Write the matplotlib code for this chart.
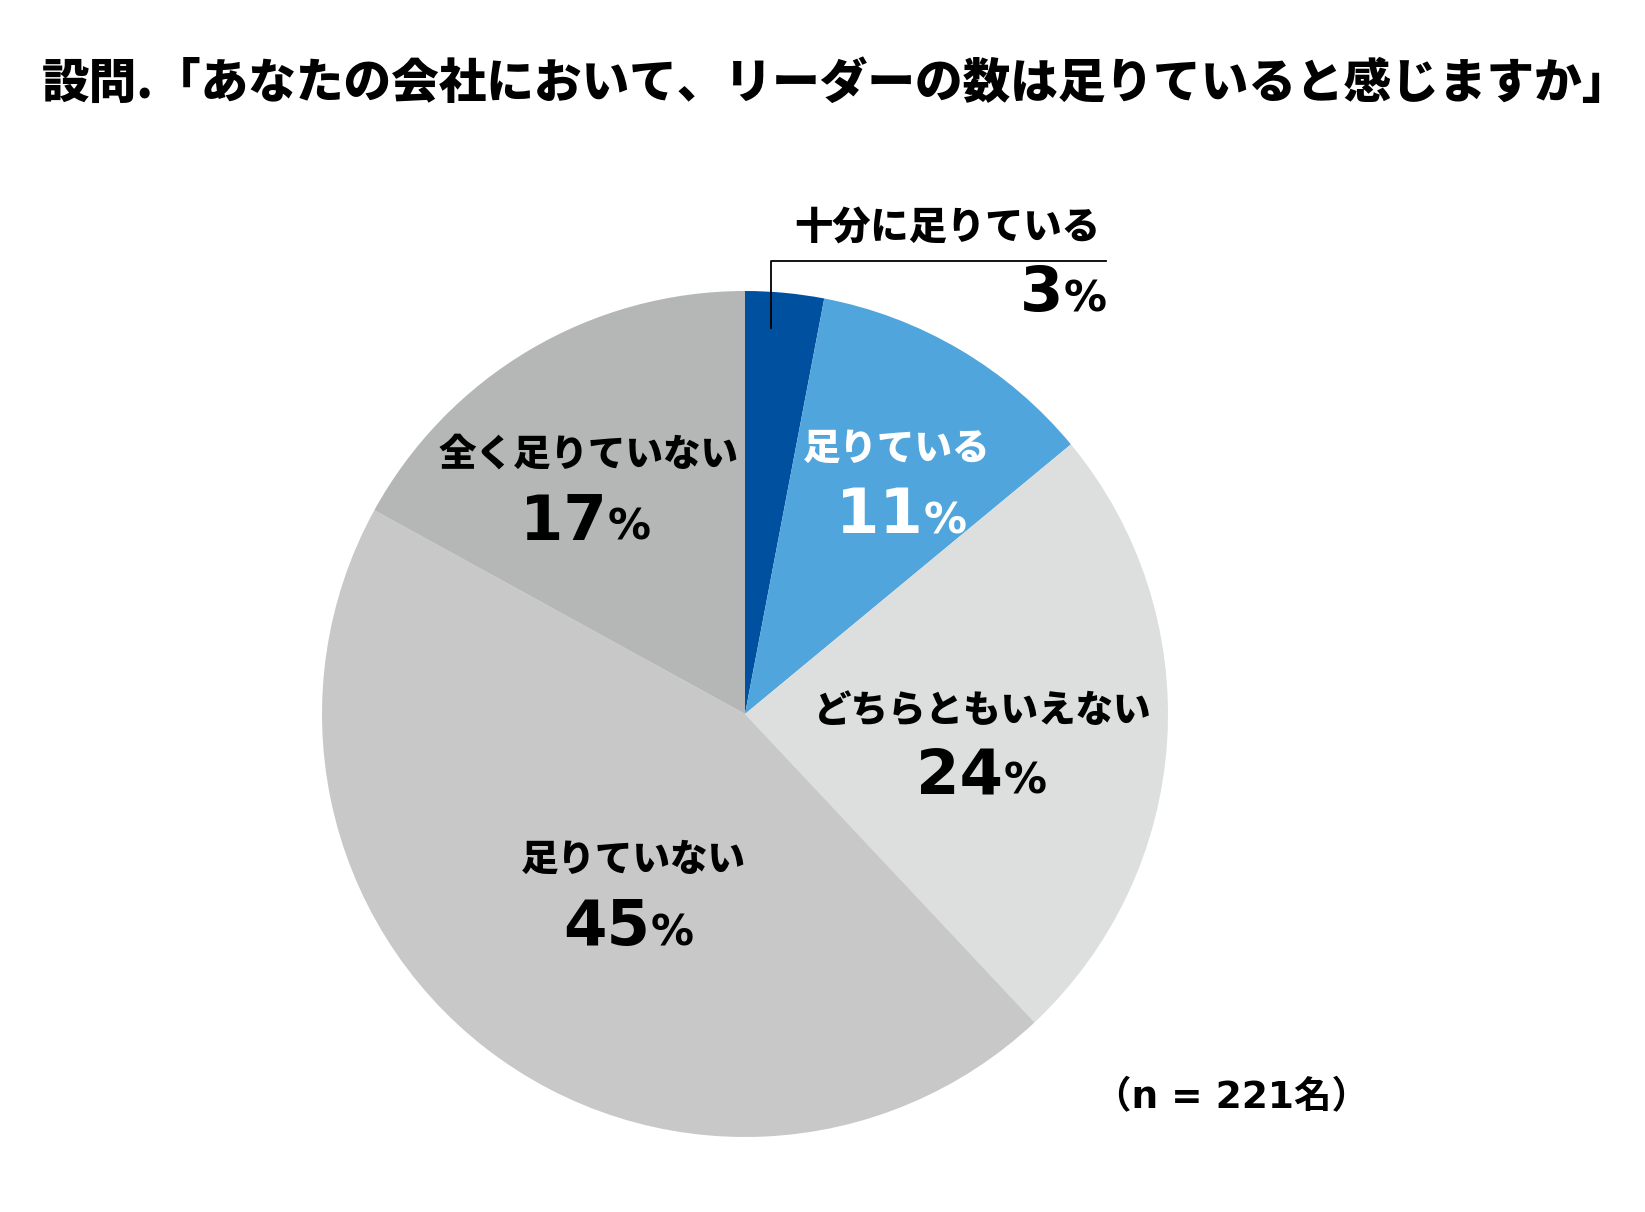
import matplotlib
matplotlib.use("Agg")
import matplotlib.pyplot as plt

plt.rcParams['font.family'] = ['Noto Sans CJK JP', 'DejaVu Sans']

# data
categories = ["十分に足りている", "足りている", "どちらともいえない", "足りていない", "全く足りていない"]
shares = [3, 11, 24, 45, 17]
colors = ["#0050A0", "#50A5DC", "#DDDEDE", "#C8C8C8", "#B5B6B6"]
title = "設問.「あなたの会社において、リーダーの数は足りていると感じますか」"
note = "（n = 221名）"

W, H = 1645, 1212
fig = plt.figure(figsize=(W / 100, H / 100), dpi=100)

def fx(x):
    return x / W

def fy(y):
    return 1 - y / H

# pie axes (center 745,714 px, radius 423 px)
cx, cy, r = 745, 714, 423
ax = fig.add_axes([fx(cx - r), fy(cy + r), 2 * r / W, 2 * r / H])
ax.pie(shares, colors=colors, startangle=90, counterclock=False,
       wedgeprops=dict(linewidth=0))
ax.set_xlim(-1, 1)
ax.set_ylim(-1, 1)
ax.set_aspect('auto')
ax.axis('off')

fig.text(fx(42), fy(84), title, fontsize=34.3, fontweight='black',
         ha='left', va='center', color='black')

# label layout: (label center x, label center y, split x of number/%, number baseline y, text color)
layout = [
    None,
    (897, 449, 923, 533, 'white'),
    (983, 711, 1003, 793, 'black'),
    (633, 860, 650, 945, 'black'),
    (589, 455, 607, 540, 'black'),
]

for cat, val, lay in zip(categories, shares, layout):
    if lay is None:
        continue
    lx, ly, sx, by, c = lay
    fig.text(fx(lx), fy(ly), cat, fontsize=27, fontweight='black', color=c,
             ha='center', va='center')
    fig.text(fx(sx), fy(by), str(val), fontsize=45, fontweight='bold', color=c,
             ha='right', va='baseline', family='DejaVu Sans')
    fig.text(fx(sx + 1), fy(by), "%", fontsize=31, fontweight='bold', color=c,
             ha='left', va='baseline', family='DejaVu Sans')

# callout for the small slice
fig.text(fx(1100), fy(228), categories[0], fontsize=27.5, fontweight='black',
         ha='right', va='center')
fig.text(fx(1063), fy(311), str(shares[0]), fontsize=45, fontweight='bold',
         ha='right', va='baseline', family='DejaVu Sans')
fig.text(fx(1064), fy(311), "%", fontsize=31, fontweight='bold',
         ha='left', va='baseline', family='DejaVu Sans')
fig.add_artist(plt.Line2D([fx(771), fx(771), fx(1106)], [fy(328), fy(261), fy(261)],
                          color='black', linewidth=1.3))

fig.text(fx(1232), fy(1098), note, fontsize=27, fontweight='bold',
         family=['DejaVu Sans', 'Noto Sans CJK JP'], ha='center', va='center')

fig.savefig("out.png", dpi=100, facecolor='white')
